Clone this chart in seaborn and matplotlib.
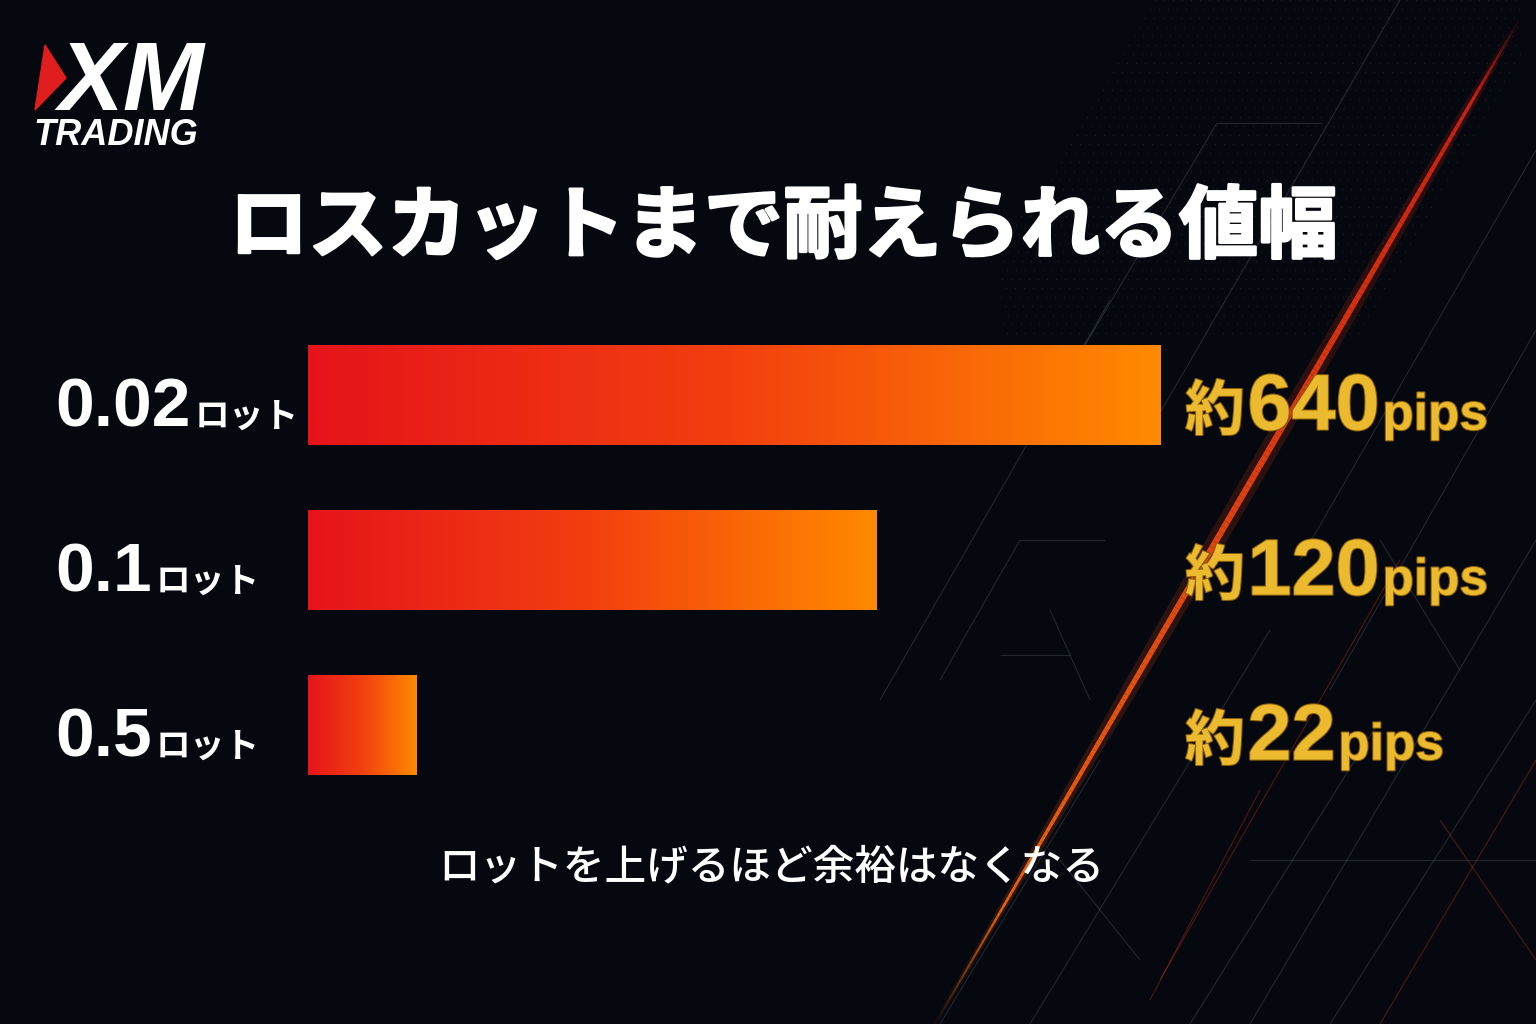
import numpy as np
import pandas as pd
import matplotlib.pyplot as plt
import seaborn as sns
from matplotlib.collections import LineCollection
from matplotlib.colors import LinearSegmentedColormap, to_rgba
from matplotlib.patches import Polygon
from matplotlib.transforms import blended_transform_factory
import matplotlib.patheffects as pe

# データ
lots = ['0.02', '0.1', '0.5']
pips = [640, 120, 22]
bar_len = [100, 66.7, 12.7]   # 画像上のバーの長さ（最長バー=100）

title = 'ロスカットまで耐えられる値幅'
note = 'ロットを上げるほど余裕はなくなる'

BG = '#05080f'
GOLD = '#ebba2e'
JP = ['Noto Sans CJK JP', 'DejaVu Sans']
SANS = ['Liberation Sans', 'DejaVu Sans']

sns.set_style('dark')
plt.rcParams['font.family'] = JP

fig = plt.figure(figsize=(15.36, 10.24), dpi=100, facecolor=BG)

# 背景（ピクセル座標）
bg = fig.add_axes([0, 0, 1, 1])
bg.set_xlim(0, 1536)
bg.set_ylim(1024, 0)
bg.axis('off')

# 右上の点模様（薄く）
gx, gy = np.meshgrid(np.arange(0, 60) * 9.0, np.arange(0, 40) * 9.0)
dx = 1020 + gx.ravel() - 0.58 * gy.ravel()
dy = gy.ravel()
keep = (dx > 1000) & (dx < 1520) & (dy < 340) & ((dx - 1000) + 0.6 * dy > 150)
bg.scatter(dx[keep], dy[keep], s=1.2, color='#6b7488', alpha=0.18, linewidths=0)

# 薄い斜線
faint = [
    ((1217, 123), (1322, 123)), ((1217, 123), (1085, 345)),
    ((1536, 150), (1300, 560)), ((1400, 0), (1150, 430)),
    ((1110, 300), (880, 700)), ((1020, 540), (1105, 540)),
    ((1020, 540), (940, 680)), ((1000, 655), (1070, 655)),
    ((1536, 330), (1330, 690)), ((1380, 720), (1190, 1024)),
    ((1270, 630), (1030, 1024)), ((1100, 760), (940, 1024)),
    ((1536, 540), (1250, 1024)), ((1060, 860), (1140, 960)),
    ((1250, 860), (1536, 860)), ((1380, 540), (1460, 670)),
    ((1536, 700), (1330, 1024)), ((1090, 700), (1050, 610)),
]
bg.add_collection(LineCollection(faint, colors='#8a93a6', linewidths=0.8, alpha=0.22))
faint_red = [((1400, 560), (1160, 980)), ((1536, 760), (1380, 1024)),
             ((1260, 790), (1150, 1000)), ((1440, 820), (1536, 960))]
bg.add_collection(LineCollection(faint_red, colors='#c83018', linewidths=0.9, alpha=0.35))

# メインの斜線（赤→オレンジ）
n = 200
t = np.linspace(0, 1, n)
xs = 1522 + (935 - 1522) * t
ys = 15 + (1024 - 15) * t
pts = np.column_stack([xs, ys]).reshape(-1, 1, 2)
segs = np.concatenate([pts[:-1], pts[1:]], axis=1)
c0, c1 = np.array(to_rgba('#d21a12')), np.array(to_rgba('#ff7010'))
cols = c0 + (c1 - c0) * t[:-1, None]
fade = np.clip(np.minimum(t[:-1] / 0.08, (1 - t[:-1]) / 0.12), 0, 1)
cols[:, 3] = 0.95 * fade
widths = 1.5 + 3.0 * np.sin(np.pi * np.clip(t[:-1] * 1.1, 0, 1))
glow = cols.copy()
glow[:, 3] *= 0.18
bg.add_collection(LineCollection(segs, colors=glow, linewidths=widths * 3))
bg.add_collection(LineCollection(segs, colors=cols, linewidths=widths))

# ロゴ
bg.add_patch(Polygon([(45, 45), (66, 78), (35, 110)], closed=True, color='#e01e1e'))
bg.text(58, 110, 'XM', family=SANS, fontsize=70, fontweight='bold', fontstyle='italic',
        color='white', va='baseline', ha='left')
bg.text(33, 145, 'TRADING', family=SANS, fontsize=26, fontweight='bold', fontstyle='italic',
        color='white', va='baseline', ha='left')

# タイトルと注記
fig.text(783 / 1536, 1 - 228 / 1024, title, ha='center', va='center', fontsize=57,
         fontweight='bold', color='white',
         path_effects=[pe.withStroke(linewidth=2, foreground='white')])
fig.text(771 / 1536, 1 - 867 / 1024, note, ha='center', va='center', fontsize=30,
         fontweight='medium', color='white')

# バー
ax = fig.add_axes([308 / 1536, 1 - 807.5 / 1024, 900 / 1536, 495 / 1024])
df = pd.DataFrame({'lot': lots, 'len': bar_len})
sns.barplot(data=df, x='len', y='lot', orient='h', width=0.61, color='#f04010',
            saturation=1, ax=ax)
ax.axis('off')

cmap = LinearSegmentedColormap.from_list('bar', ['#e6141a', '#f3400f', '#ff8a00'])
grad = np.linspace(0, 1, 256).reshape(1, -1)
for p in ax.patches:
    x0, y0, w, h = p.get_x(), p.get_y(), p.get_width(), p.get_height()
    p.set_edgecolor('none')
    im = ax.imshow(grad, cmap=cmap, extent=[x0, x0 + w, y0 + h, y0], aspect='auto',
                   zorder=p.get_zorder() + 0.1)
    im.set_clip_path(p)
ax.set_xlim(0, 100 * 900 / 853)
ax.set_ylim(2.5, -0.5)

tr = blended_transform_factory(fig.transFigure, ax.transData)
gold_fx = [pe.withStroke(linewidth=1.5, foreground='#8a5e0a')]
for i, (lot, v) in enumerate(zip(lots, pips)):
    base = i + 0.19
    t1 = ax.text(55 / 1536, base, lot, transform=tr, va='baseline', ha='left',
                 family=SANS, fontsize=50, fontweight='bold', color='white')
    ax.annotate('ロット', xy=(1, base), xycoords=(t1, ax.transData), xytext=(3, 0),
                textcoords='offset points', va='baseline', ha='left',
                fontsize=25, fontweight='bold', color='white')

    base_r = i + 0.21
    k = ax.text(1185 / 1536, base_r, '約', transform=tr, va='baseline', ha='left',
                fontsize=43, fontweight='bold', color=GOLD, path_effects=gold_fx)
    num = ax.annotate(str(v), xy=(1, base_r), xycoords=(k, ax.transData), xytext=(2, 0),
                      textcoords='offset points', va='baseline', ha='left',
                      family=SANS, fontsize=57, fontweight='bold', color=GOLD,
                      path_effects=gold_fx)
    ax.annotate('pips', xy=(1, base_r), xycoords=(num, ax.transData), xytext=(2, 0),
                textcoords='offset points', va='baseline', ha='left',
                family=SANS, fontsize=37, fontweight='bold', color=GOLD,
                path_effects=gold_fx)

fig.savefig('out.png', dpi=100, facecolor=BG)
